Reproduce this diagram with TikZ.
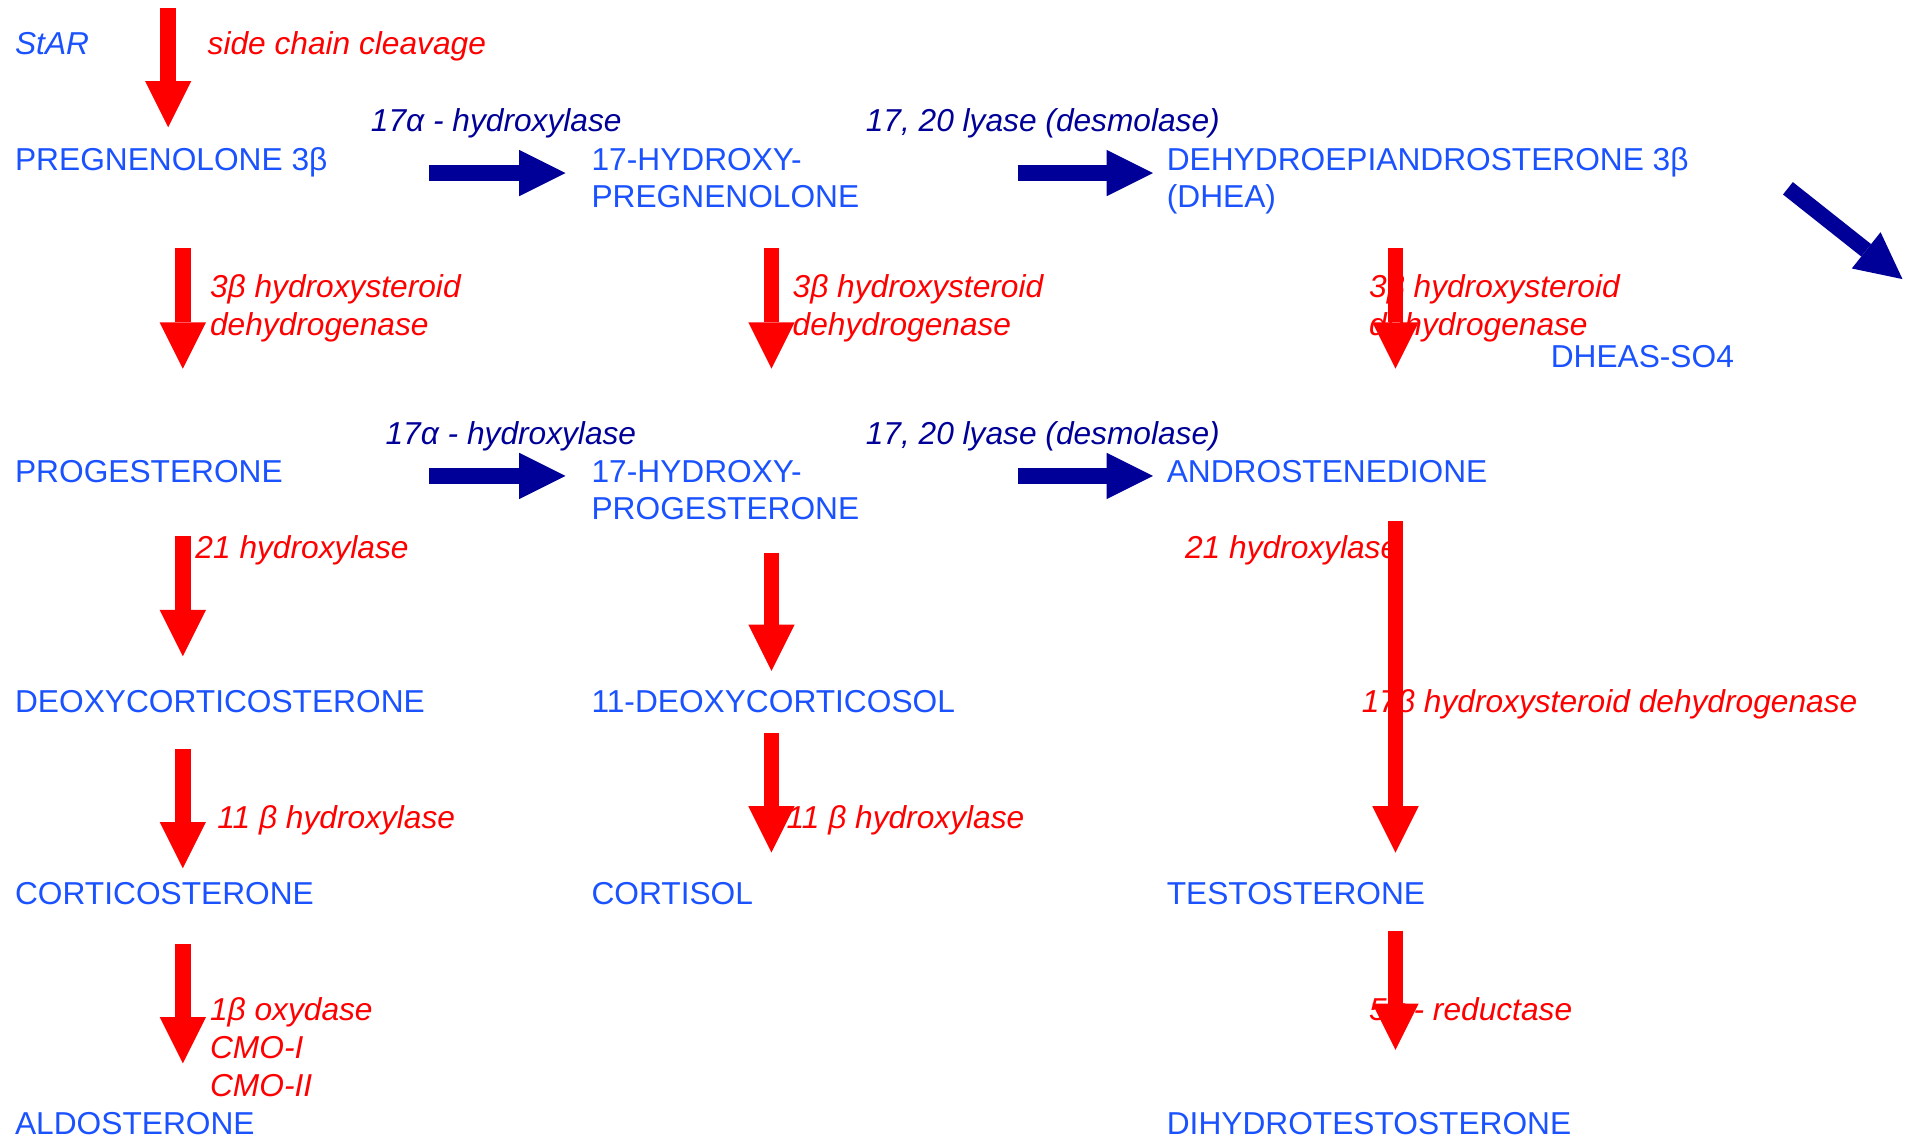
\documentclass[tikz,border=0pt]{standalone}
\usepackage{fontspec}
\setmainfont{Liberation Sans}
\usetikzlibrary{arrows.meta}
\definecolor{cmpdblue}{RGB}{26,82,255}
\definecolor{enzred}{RGB}{255,0,0}
\definecolor{enznavy}{RGB}{0,0,153}

\begin{document}
\begin{tikzpicture}[
x=0.5pt, y=-0.5pt,
every node/.style={font=\fontsize{13}{15.5}\selectfont, inner sep=0pt, anchor=base west, align=left},
cmpd/.style={text=cmpdblue},
enz/.style={text=enzred, font=\fontsize{13}{15.5}\selectfont\itshape},
enzdark/.style={text=enznavy, font=\fontsize{13}{15.5}\selectfont\itshape},
redarr/.style={draw=enzred, line width=6.5pt, -{Triangle[width=19pt,length=19pt,line width=0pt]}},
navyarr/.style={draw=enznavy, line width=6.5pt, -{Triangle[width=19pt,length=19pt,line width=0pt]}}
]
\path[fill=white] (0,0) rectangle (1568,935);

% compounds (multi-line nodes sit on their last baseline)
\node[cmpd, font=\fontsize{13}{15.5}\selectfont\itshape] (star) at (12,43) {StAR};
\node[cmpd] (preg) at (12,138) {PREGNENOLONE 3β};
\node[cmpd] (ohpreg) at (485,169) {17-HYDROXY-\\PREGNENOLONE};
\node[cmpd] (dhea) at (957,169) {DEHYDROEPIANDROSTERONE 3β\\(DHEA)};
\node[cmpd] (dheas) at (1272,300) {DHEAS-SO4};
\node[cmpd] (prog) at (12,394) {PROGESTERONE};
\node[cmpd] (ohprog) at (485,425) {17-HYDROXY-\\PROGESTERONE};
\node[cmpd] (andro) at (957,394) {ANDROSTENEDIONE};
\node[cmpd] (doc) at (12,583) {DEOXYCORTICOSTERONE};
\node[cmpd] (deoxcort) at (485,583) {11-DEOXYCORTICOSOL};
\node[cmpd] (corticost) at (12,741) {CORTICOSTERONE};
\node[cmpd] (cortisol) at (485,741) {CORTISOL};
\node[cmpd] (testo) at (957,741) {TESTOSTERONE};
\node[cmpd] (aldo) at (12,929) {ALDOSTERONE};
\node[cmpd] (dht) at (957,929) {DIHYDROTESTOSTERONE};

% enzymes
\node[enz] (scc) at (170,43) {side chain cleavage};
\node[enzdark] (hyd1) at (304,106) {17α - hydroxylase};
\node[enzdark] (lyase1) at (710,106) {17, 20 lyase (desmolase)};
\node[enz] (hsd1) at (172,274) {3β hydroxysteroid\\dehydrogenase};
\node[enz] (hsd2) at (650,274) {3β hydroxysteroid\\dehydrogenase};
\node[enz] (hsd3) at (1123,274) {3β hydroxysteroid\\dehydrogenase};
\node[enzdark] (hyd2) at (316,363) {17α - hydroxylase};
\node[enzdark] (lyase2) at (710,363) {17, 20 lyase (desmolase)};
\node[enz] (hx21a) at (160,457) {21 hydroxylase};
\node[enz] (hx21b) at (972,457) {21 hydroxylase};
\node[enz] (hsd17) at (1117,583) {17β hydroxysteroid dehydrogenase};
\node[enz] (hx11a) at (178,678) {11 β hydroxylase};
\node[enz] (hx11b) at (645,678) {11 β hydroxylase};
\node[enz] (oxy) at (172,898) {1β oxydase\\CMO-I\\CMO-II};
\node[enz] (red5) at (1123,836) {5α - reductase};

% arrow ends
\coordinate (scc-s) at (138,5);    \coordinate (scc-e) at (138,103);
\coordinate (hsd1-s) at (150,202); \coordinate (hsd1-e) at (150,301);
\coordinate (hsd2-s) at (633,202); \coordinate (hsd2-e) at (633,301);
\coordinate (hsd3-s) at (1145,202); \coordinate (hsd3-e) at (1145,301);
\coordinate (hx21-s) at (150,438); \coordinate (hx21-e) at (150,537);
\coordinate (c11-s) at (633,452);  \coordinate (c11-e) at (633,549);
\coordinate (hsd17-s) at (1145,426); \coordinate (hsd17-e) at (1145,698);
\coordinate (hx11a-s) at (150,613); \coordinate (hx11a-e) at (150,711);
\coordinate (hx11b-s) at (633,600); \coordinate (hx11b-e) at (633,698);
\coordinate (oxy-s) at (150,773);  \coordinate (oxy-e) at (150,871);
\coordinate (red5-s) at (1145,762); \coordinate (red5-e) at (1145,860);
\coordinate (hyd1-s) at (352,140.5); \coordinate (hyd1-e) at (464,140.5);
\coordinate (lyase1-s) at (835,140.5); \coordinate (lyase1-e) at (946,140.5);
\coordinate (hyd2-s) at (352,389);  \coordinate (hyd2-e) at (464,389);
\coordinate (lyase2-s) at (835,389); \coordinate (lyase2-e) at (946,389);
\coordinate (sulf-s) at (1467,153); \coordinate (sulf-e) at (1561,227.5);

\draw[redarr] (scc-s) -- (scc-e);
\draw[redarr] (hsd1-s) -- (hsd1-e);
\draw[redarr] (hsd2-s) -- (hsd2-e);
\draw[redarr] (hsd3-s) -- (hsd3-e);
\draw[redarr] (hx21-s) -- (hx21-e);
\draw[redarr] (c11-s) -- (c11-e);
\draw[redarr] (hsd17-s) -- (hsd17-e);
\draw[redarr] (hx11a-s) -- (hx11a-e);
\draw[redarr] (hx11b-s) -- (hx11b-e);
\draw[redarr] (oxy-s) -- (oxy-e);
\draw[redarr] (red5-s) -- (red5-e);
\draw[navyarr] (hyd1-s) -- (hyd1-e);
\draw[navyarr] (lyase1-s) -- (lyase1-e);
\draw[navyarr] (hyd2-s) -- (hyd2-e);
\draw[navyarr] (lyase2-s) -- (lyase2-e);
\draw[navyarr] (sulf-s) -- (sulf-e);
\end{tikzpicture}
\end{document}
